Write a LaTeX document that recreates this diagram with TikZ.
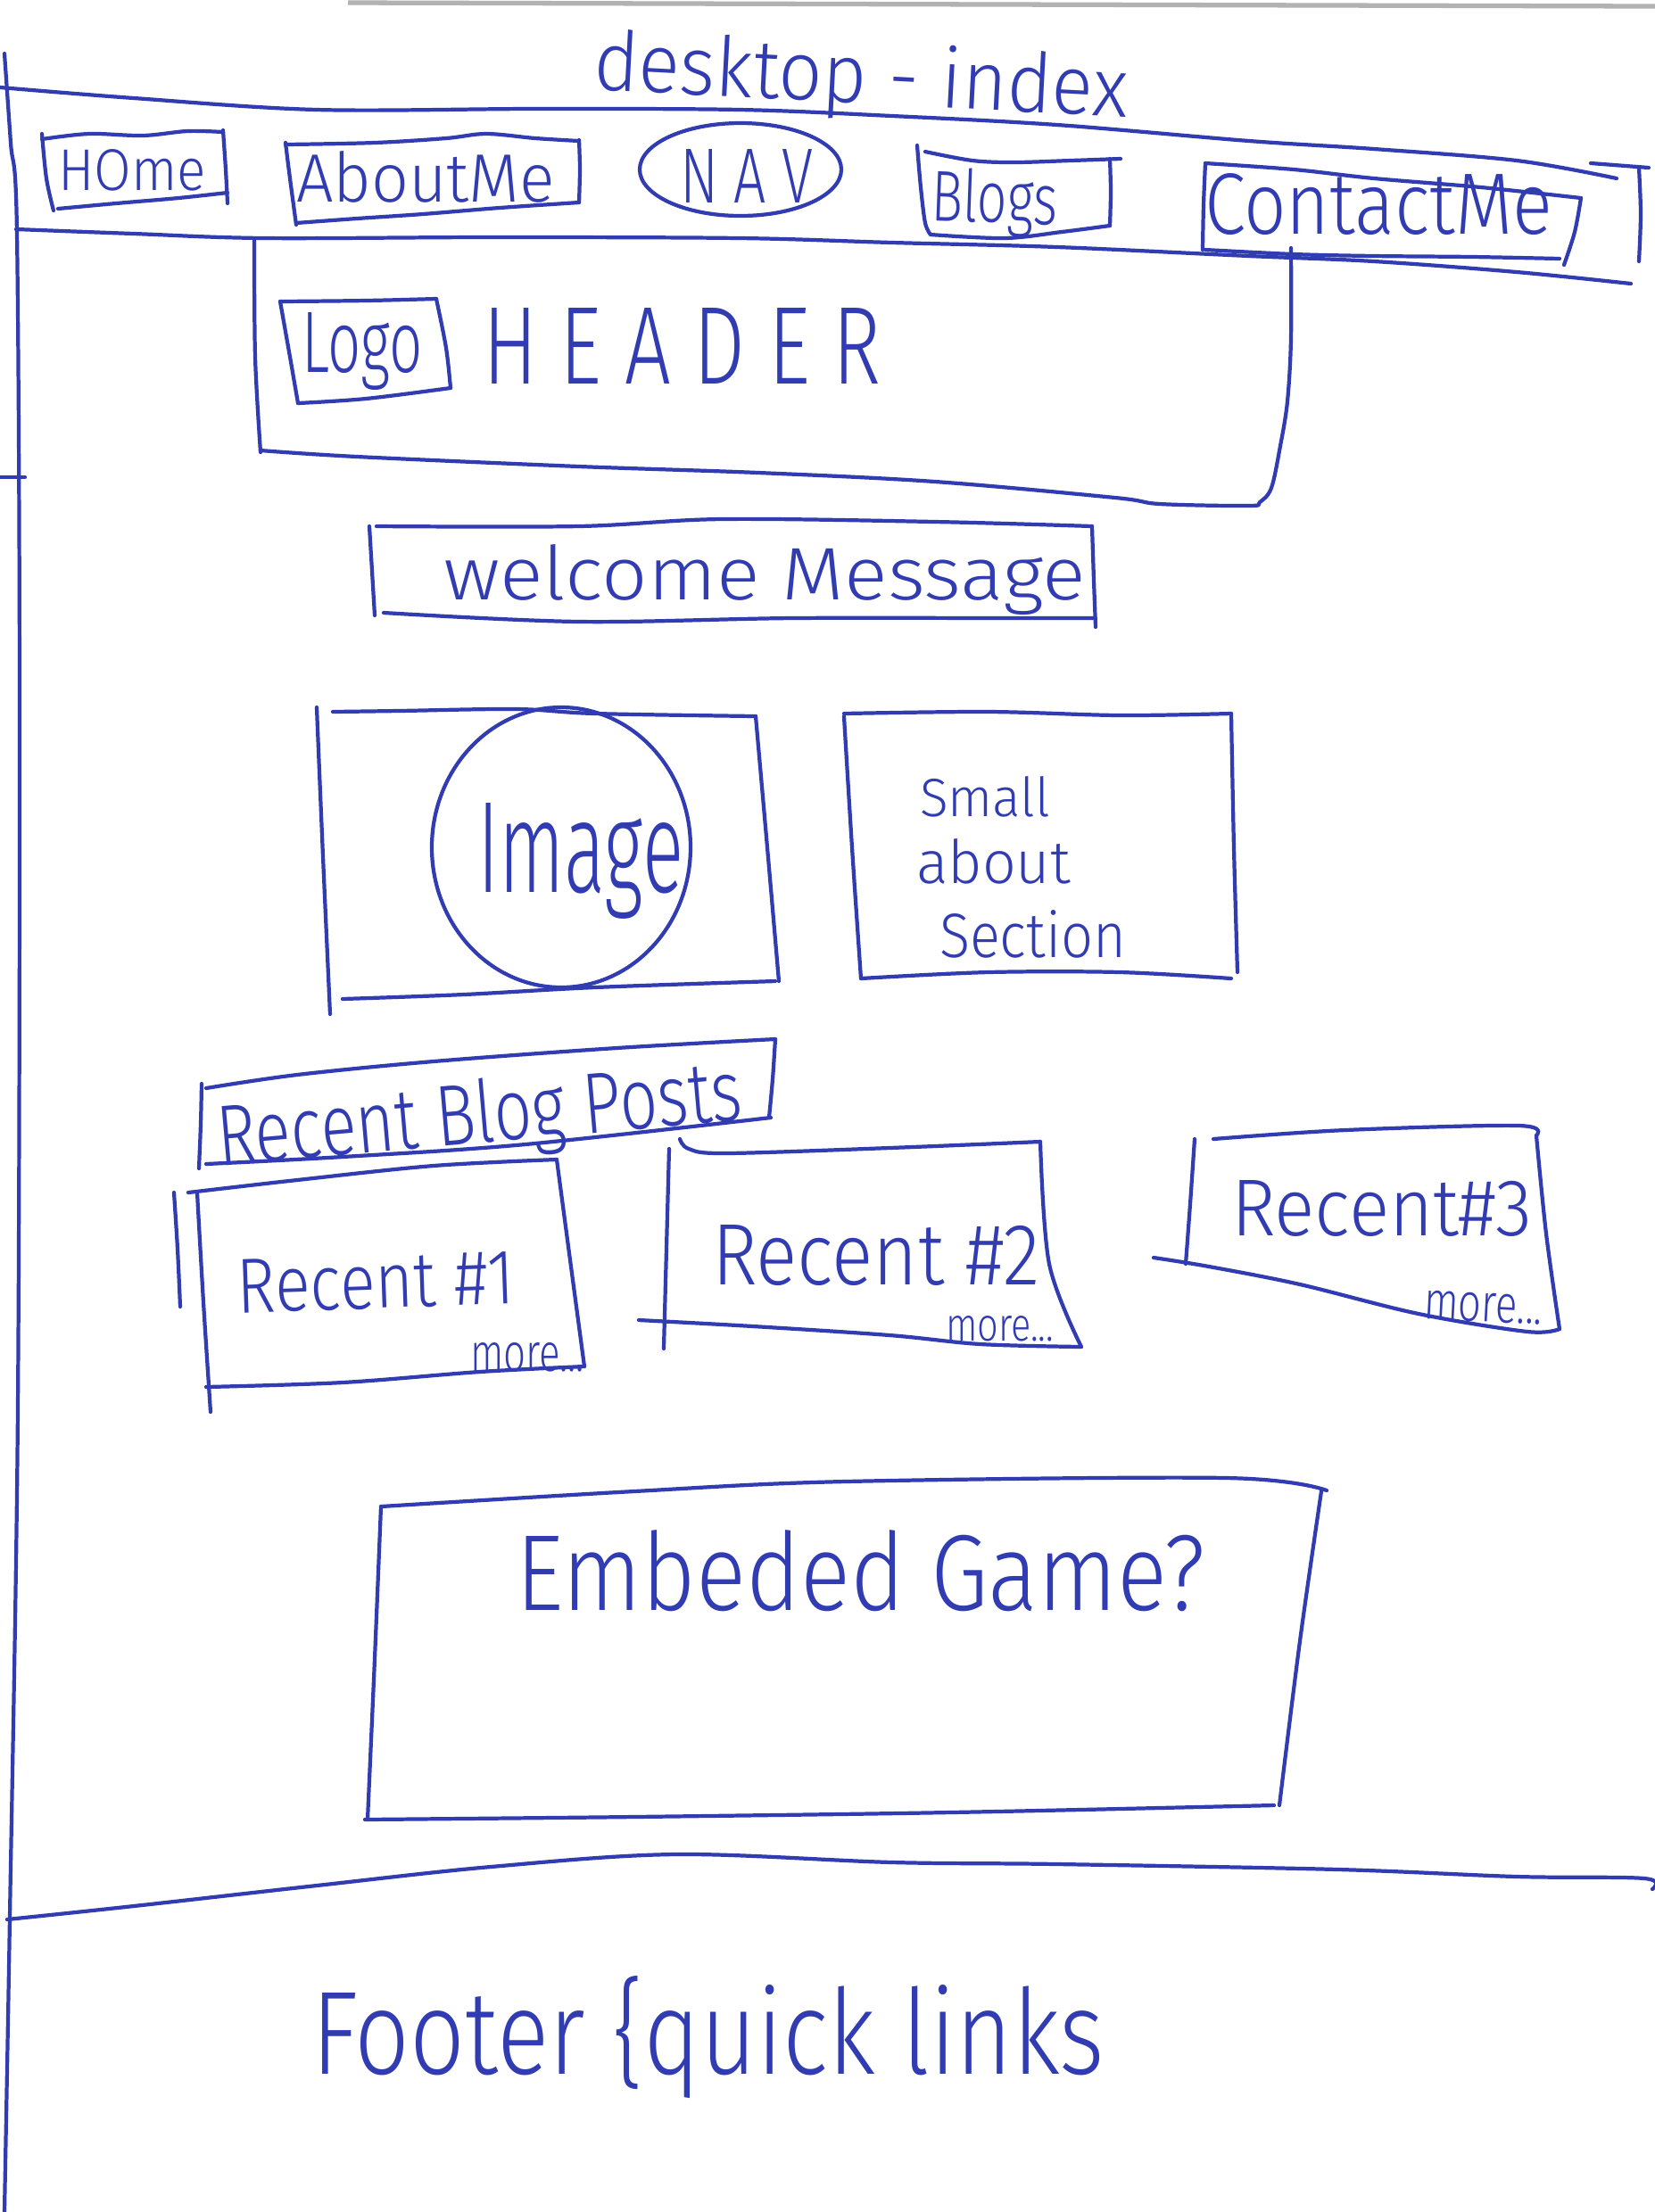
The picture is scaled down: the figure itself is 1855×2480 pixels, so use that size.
\documentclass[tikz,border=0pt]{standalone}
\usepackage{fontspec}
\usepackage{graphicx}
\newfontfamily\hand{Fira Sans Light}
\definecolor{ink}{RGB}{50,60,178}
\newdimen\pxu \pxu=0.01cm
% handwritten-looking label: width, ascender height (in px), text
\newcommand\hw[3]{\resizebox{#1\pxu}{#2\pxu}{\hand #3}}
\begin{document}
\begin{tikzpicture}[x=0.01cm,y=-0.01cm,
  pen/.style={draw=ink,line width=1.2pt,line cap=round,line join=round},
  lbl/.style={inner sep=0pt,outer sep=0pt,text=ink,anchor=base west}]
\fill[white] (0,0) rectangle (1855,2480);
\useasboundingbox (0,0) rectangle (1855,2480);
\newcommand\edge[1]{\draw[pen] plot[smooth,tension=0.55] coordinates {#1};}

% scanner edge along the top
\draw[black!30,line width=1.5pt] (390,3) -- (1855,7);

% page frame on the left
\edge{(5,60) (12,160) (19,261) (22,790) (20,1580) (11,2150) (5,2480)}
\draw[pen] (0,535) -- (28,535);

% title
\node[lbl,rotate=-3] (title) at (664,100) {\hw{600}{70}{desktop - index}};

% navigation bar
\edge{(0,98) (150,110) (355,123) (600,122) (829,123) (1000,130) (1185,140) (1400,158) (1540,167) (1700,180) (1812,200)}
\edge{(18,257) (150,262) (296,267) (550,266) (829,267) (1000,272) (1185,277) (1400,287) (1540,293) (1700,305) (1828,318)}
\edge{(1783,183) (1848,188)}
\edge{(1837,188) (1839,240) (1837,293)}

% Home
\edge{(47,156) (100,150) (160,152) (210,147) (250,148)}
\edge{(250,146) (253,190) (255,228)}
\edge{(255,216) (200,222) (130,228) (65,234)}
\edge{(47,150) (52,200) (60,236)}
\node[lbl] (home) at (65,213) {\hw{166}{46}{HOme}};

% About Me
\edge{(320,162) (420,160) (500,155) (545,150) (600,155) (649,158)}
\edge{(649,157) (650,190) (649,227)}
\edge{(332,250) (400,245) (474,240) (560,233) (649,227)}
\edge{(320,160) (325,200) (332,252)}
\node[lbl] (about) at (332,226) {\hw{290}{57}{AboutMe}};

% NAV
\draw[pen] (830,190) ellipse [x radius=113, y radius=52];
\node[lbl] (nav) at (762,227) {\hw{150}{60}{N A V}};

% Blogs
\edge{(1028,163) (1032,210) (1037,250) (1043,263)}
\edge{(1037,170) (1090,180) (1137,182) (1200,180) (1256,178)}
\edge{(1244,178) (1245,215) (1244,253)}
\edge{(1244,253) (1190,260) (1126,267) (1043,263)}
\node[lbl,rotate=-2] (blogs) at (1043,247) {\hw{142}{60}{Blogs}};

% Contact Me
\edge{(1351,183) (1450,190) (1540,200) (1660,210) (1772,222)}
\edge{(1772,222) (1765,260) (1753,297)}
\edge{(1351,280) (1450,285) (1540,287) (1650,288) (1748,290)}
\edge{(1351,183) (1349,230) (1348,280)}
\node[lbl] (contact) at (1350,262) {\hw{390}{68}{ContactMe}};

% header block
\edge{(285,270) (286,400) (292,507)}
\edge{(292,505) (400,512) (649,523) (850,530) (1048,540) (1250,558) (1300,565) (1400,567) (1412,563) (1425,547) (1435,500) (1443,450) (1447,380) (1447,278)}
\edge{(314,338) (410,337) (489,335)}
\edge{(489,335) (500,390) (505,435)}
\edge{(505,435) (410,447) (334,452)}
\edge{(314,338) (325,400) (334,452)}
\node[lbl] (logo) at (338,417) {\hw{136}{67}{Logo}};
\node[lbl] (header) at (541,430) {\hw{447}{85}{H E A D E R}};

% welcome message
\edge{(422,590) (649,590) (809,582) (1048,585) (1224,590)}
\edge{(1224,590) (1226,650) (1228,703)}
\edge{(430,687) (649,697) (889,693) (1128,693) (1228,693)}
\edge{(414,590) (417,640) (420,690)}
\node[lbl] (welcome) at (497,672) {\hw{720}{62}{welcome Message}};

% image block
\edge{(355,793) (362,960) (370,1137)}
\edge{(373,798) (447,797) (579,795) (667,800) (847,803)}
\edge{(847,803) (860,950) (873,1100)}
\edge{(384,1120) (520,1115) (667,1107) (869,1100)}
\draw[pen] (629,950) ellipse [x radius=145, y radius=157];
\node[lbl] (image) at (535,1000) {\hw{231}{100}{Image}};

% small about section
\edge{(946,800) (1108,798) (1255,802) (1380,800)}
\edge{(1380,800) (1383,950) (1387,1090)}
\edge{(965,1097) (1108,1090) (1255,1090) (1380,1097)}
\edge{(946,803) (955,950) (965,1097)}
\node[lbl] (small) at (1031,915) {\hw{146}{45}{Small}};
\node[lbl] (abouttxt) at (1027,990) {\hw{173}{50}{about}};
\node[lbl] (section) at (1053,1073) {\hw{209}{53}{Section}};

% recent blog posts heading
\edge{(226,1215) (225,1260) (223,1310)}
\edge{(231,1220) (333,1205) (486,1190) (691,1175) (869,1165)}
\edge{(869,1165) (866,1210) (862,1253)}
\edge{(231,1305) (384,1297) (589,1283) (864,1253)}
\node[lbl,rotate=5] (rbp) at (246,1307) {\hw{590}{72}{Recent Blog Posts}};

% recent post 1
\edge{(211,1337) (333,1323) (486,1307) (624,1300)}
\edge{(624,1300) (640,1420) (655,1532)}
\edge{(655,1532) (538,1538) (384,1550) (231,1555)}
\edge{(221,1337) (228,1460) (236,1583)}
\edge{(195,1337) (199,1400) (202,1465)}
\node[lbl,rotate=2] (r1) at (267,1472) {\hw{311}{60}{Recent \#1}};
\node[lbl] (m1) at (527,1537) {\hw{128}{32}{more...}};

% recent post 2
\edge{(762,1277) (772,1288) (813,1293) (997,1287) (1166,1280)}
\edge{(1166,1280) (1176,1417) (1212,1510)}
\edge{(1212,1510) (1099,1507) (997,1497) (844,1487) (716,1480)}
\edge{(750,1288) (747,1400) (744,1512)}
\node[lbl] (r2) at (798,1440) {\hw{368}{67}{Recent \#2}};
\node[lbl] (m2) at (1060,1503) {\hw{121}{28}{more...}};

% recent post 3
\edge{(1360,1277) (1508,1267) (1702,1262) (1722,1273)}
\edge{(1722,1273) (1733,1383) (1748,1490)}
\edge{(1748,1490) (1712,1493) (1590,1473) (1457,1440) (1355,1420) (1293,1410)}
\edge{(1339,1277) (1334,1350) (1329,1417)}
\node[lbl] (r3) at (1380,1385) {\hw{337}{62}{Recent\#3}};
\node[lbl,rotate=-3] (m3) at (1595,1478) {\hw{133}{32}{more...}};

% embedded game
\edge{(427,1689) (711,1672) (948,1661) (1374,1657) (1487,1671)}
\edge{(1481,1672) (1457,1840) (1434,2024)}
\edge{(1428,2024) (1066,2032) (711,2037) (409,2040)}
\edge{(427,1689) (420,1860) (412,2040)}
\node[lbl] (game) at (578,1805) {\hw{773}{90}{Embeded Game?}};

% footer
\edge{(8,2152) (150,2137) (355,2114) (550,2093) (758,2079) (1000,2088) (1185,2090) (1500,2096) (1700,2104) (1843,2106) (1852,2118)}
\node[lbl] (footer) at (349,2325) {\hw{889}{110}{Footer \{quick links}};
\end{tikzpicture}
\end{document}
